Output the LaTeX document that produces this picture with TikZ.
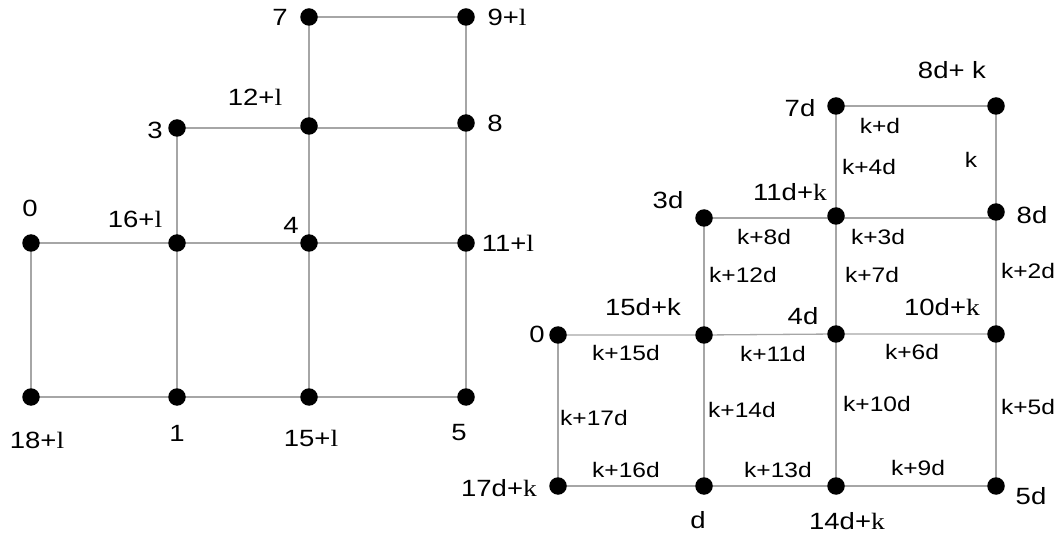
\documentclass[tikz,border=0pt]{standalone}
\usepackage{fontspec}
\usetikzlibrary{backgrounds}
\setmainfont{Liberation Sans}
\newfontfamily\serifface{Liberation Serif}
\newcommand{\rmvar}[1]{{\serifface #1}}
% labels are set a little wider than the plain face
\newcommand{\widelab}[1]{\scalebox{1.17}[1]{#1}}
\begin{document}
\begin{tikzpicture}[x=1pt,y=-1pt,
  dot/.style={circle,fill=black,inner sep=0pt,minimum size=17.5pt},
  edge/.style={draw=black!35,line width=1.3pt},
  vlab/.style={font=\fontsize{23.5}{23.5}\selectfont,inner sep=0pt},
  elab/.style={font=\fontsize{21}{21}\selectfont,inner sep=0pt}]
\useasboundingbox (0,0) rectangle (1063,537);

% ---- left grid ----
\node[dot] (L7)  at (309,17) {};
\node[dot] (L9)  at (466,17) {};
\node[dot] (L3)  at (177,128) {};
\node[dot] (L12) at (309,126) {};
\node[dot] (L8)  at (466,123) {};
\node[dot] (L0)  at (31,243) {};
\node[dot] (L16) at (177,243) {};
\node[dot] (L4)  at (309,243) {};
\node[dot] (L11) at (466,243) {};
\node[dot] (L18) at (31,397) {};
\node[dot] (L1)  at (177,397) {};
\node[dot] (L15) at (309,397) {};
\node[dot] (L5)  at (466,397) {};

\begin{scope}[on background layer]
\draw[edge] (L7.center) -- (L9.center);
\draw[edge] (L7.center) -- (L12.center) -- (L4.center) -- (L15.center);
\draw[edge] (L9.center) -- (L8.center) -- (L11.center) -- (L5.center);
\draw[edge] (L3.center) -- (L3.center -| L8.center);
\draw[edge] (L3.center) -- (L16.center) -- (L1.center);
\draw[edge] (L0.center) -- (L16.center) -- (L4.center) -- (L11.center);
\draw[edge] (L0.center) -- (L18.center);
\draw[edge] (L18.center) -- (L1.center) -- (L15.center) -- (L5.center);
\end{scope}

\node[vlab] (tL7)  at (280,17)  {\widelab{7}};
\node[vlab] (tL9)  at (507,17)  {\widelab{9+\rmvar{l}}};
\node[vlab] (tL12) at (255,97)  {\widelab{12+\rmvar{l}}};
\node[vlab] (tL3)  at (155,130) {\widelab{3}};
\node[vlab] (tL8)  at (495,123) {\widelab{8}};
\node[vlab] (tL0)  at (30,208)  {\widelab{0}};
\node[vlab] (tL16) at (135,219) {\widelab{16+\rmvar{l}}};
\node[vlab] (tL4)  at (291,225) {\widelab{4}};
\node[vlab] (tL11) at (508,243) {\widelab{11+\rmvar{l}}};
\node[vlab] (tL18) at (37,440)  {\widelab{18+\rmvar{l}}};
\node[vlab] (tL1)  at (177,433) {\widelab{1}};
\node[vlab] (tL15) at (311,438) {\widelab{15+\rmvar{l}}};
\node[vlab] (tL5)  at (459,433) {\widelab{5}};

% ---- right grid ----
\node[dot] (R7)  at (836,106) {};
\node[dot] (R8k) at (996,106) {};
\node[dot] (R3)  at (704,218) {};
\node[dot] (R11) at (836,216) {};
\node[dot] (R8)  at (996,212) {};
\node[dot] (R0)  at (558,335) {};
\node[dot] (R15) at (704,335) {};
\node[dot] (R4)  at (836,334) {};
\node[dot] (R10) at (996,334) {};
\node[dot] (R17) at (558,486) {};
\node[dot] (Rd)  at (704,486) {};
\node[dot] (R14) at (836,486) {};
\node[dot] (R5)  at (996,486) {};

\begin{scope}[on background layer]
\draw[edge] (R7.center) -- (R8k.center);
\draw[edge] (R7.center) -- (R11.center) -- (R4.center) -- (R14.center);
\draw[edge] (R8k.center) -- (R8.center) -- (R10.center) -- (R5.center);
\draw[edge] (R3.center) -- (R3.center -| R8.center);
\draw[edge] (R3.center) -- (R15.center) -- (Rd.center);
\draw[edge] (R0.center) -- (R15.center) -- (R4.center) -- (R10.center);
\draw[edge] (R0.center) -- (R17.center);
\draw[edge] (R17.center) -- (Rd.center) -- (R14.center) -- (R5.center);
\end{scope}

\node[vlab] (tR7)  at (800,108) {\widelab{7d}};
\node[vlab] (tR8k) at (952,70)  {\widelab{8d+ k}};
\node[vlab] (tR3)  at (668,200) {\widelab{3d}};
\node[vlab] (tR11) at (790,192) {\widelab{11d+\rmvar{k}}};
\node[vlab] (tR8)  at (1032,215) {\widelab{8d}};
\node[vlab] (tR15) at (643,307) {\widelab{15d+k}};
\node[vlab] (tR4)  at (803,316) {\widelab{4d}};
\node[vlab] (tR10) at (942,307) {\widelab{10d+\rmvar{k}}};
\node[vlab] (tR0)  at (537,334) {\widelab{0}};
\node[vlab] (tR17) at (499,488) {\widelab{17d+\rmvar{k}}};
\node[vlab] (tRd)  at (698,520) {\widelab{d}};
\node[vlab] (tR14) at (847,521) {\widelab{14d+\rmvar{k}}};
\node[vlab] (tR5)  at (1031,496) {\widelab{5d}};

% weights written beside the edges
\node[elab] (w1)  at (880,126) {\widelab{k+d}};
\node[elab] (w2)  at (971,160) {\widelab{k}};
\node[elab] (w3)  at (869,167) {\widelab{k+4d}};
\node[elab] (w4)  at (764,237) {\widelab{k+8d}};
\node[elab] (w5)  at (878,237) {\widelab{k+3d}};
\node[elab] (w6)  at (743,275) {\widelab{k+12d}};
\node[elab] (w7)  at (872,275) {\widelab{k+7d}};
\node[elab] (w8)  at (1028,271) {\widelab{k+2d}};
\node[elab] (w9)  at (626,353) {\widelab{k+15d}};
\node[elab] (w10) at (773,354) {\widelab{k+11d}};
\node[elab] (w11) at (912,352) {\widelab{k+6d}};
\node[elab] (w12) at (594,418) {\widelab{k+17d}};
\node[elab] (w13) at (742,410) {\widelab{k+14d}};
\node[elab] (w14) at (877,404) {\widelab{k+10d}};
\node[elab] (w15) at (1028,407) {\widelab{k+5d}};
\node[elab] (w16) at (626,470) {\widelab{k+16d}};
\node[elab] (w17) at (778,470) {\widelab{k+13d}};
\node[elab] (w18) at (918,468) {\widelab{k+9d}};
\end{tikzpicture}
\end{document}
